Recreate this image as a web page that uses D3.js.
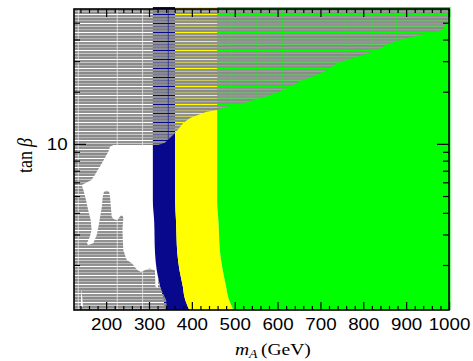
<!DOCTYPE html>
<html>
<head>
<meta charset="utf-8">
<script src="https://cdn.jsdelivr.net/npm/d3@7"></script>
<style>
  body { margin: 0; background: #fff; }
  svg { display: block; }
</style>
</head>
<body>
<svg id="chart" width="473" height="361"></svg>
<script>
// ---- axis ranges and ticks ----
const massRange = [125, 1000];
const tanbRange = [1.1, 60];
const massMajorTicks = [200, 300, 400, 500, 600, 700, 800, 900, 1000];
const massMinorTicks = [140, 160, 180, 220, 240, 260, 280, 320, 340, 360, 380,
  420, 440, 460, 480, 520, 540, 560, 580, 620, 640, 660, 680, 720, 740, 760, 780,
  820, 840, 860, 880, 920, 940, 960, 980];
const tanbMajorTicks = [10];
const tanbMinorTicks = [2, 3, 4, 5, 6, 7, 8, 9, 20, 30, 40, 50];

// ---- coloured bands: edges in mA (GeV), sampled at these tan(beta) values ----
const tanbSamples = [60, 4.7, 3.6, 2.35, 1.87, 1.5, 1.3, 1.1];
const blueLow     = [309, 309, 312, 314, 318, 326, 333, 337];
const blueHigh    = [361, 361, 363, 366, 371, 379, 383, 394];
const yellowHigh  = [459, 459, 462, 466, 472, 480, 485, 497];

// ---- excluded (hatched) region ----
// lower edge of the exclusion at large tan(beta): [mA, tanb]
const exclusionEdge = [[309, 9.63], [337, 10.16], [361, 11.56], [380, 13.2], [396, 14.11],
  [414, 14.68], [435, 15.33], [459, 15.68], [481, 16.39], [519, 17.14], [559, 18.32],
  [598, 19.74], [629, 21.38], [659, 23.36], [691, 24.97], [715, 26.68], [738, 29.17],
  [761, 30.47], [792, 32.14], [823, 34.02], [862, 38.05], [901, 40.65], [940, 42.87],
  [971, 44.38], [987, 45.83], [995, 50.5], [1000, 51.8]];
// rest of the allowed region's outline, down the right side and back up the blue edge
const allowedCorner = [[1000, 1.1], [342, 1.1], [340, 1.256], [330, 1.416], [326, 1.5],
  [318, 1.87], [314, 2.35], [312, 3.64], [309, 4.74]];
// open (unexcluded, uncoloured) pocket at low mA
const openRegion = [[321, 9.85], [321, 1.47], [315, 1.503], [314, 1.80], [314, 1.86],
  [302, 1.91], [291, 1.87], [281, 1.82], [272, 1.88], [260, 2.05], [248, 2.14], [240, 2.44],
  [238, 3.18], [240, 3.77], [236, 3.89], [231, 3.77], [226, 3.64], [218, 3.67], [213, 3.80],
  [211, 4.34], [209, 4.96], [207, 5.30], [201, 5.37], [195, 5.30], [192, 4.96], [190, 4.34],
  [186, 3.80], [182, 3.33], [178, 2.98], [170, 2.67], [158, 2.61], [155, 2.67], [162, 2.91],
  [166, 3.18], [164, 3.64], [158, 4.15], [153, 4.74], [147, 5.42], [143, 5.79], [151, 5.92],
  [166, 6.19], [176, 6.76], [190, 7.73], [205, 9.01], [209, 9.63], [217, 9.85]];
const openSpike = [[141, 1.15], [142, 1.44], [143, 1.40], [146, 1.15]];
// mA columns left unhatched by the scan
const scanGaps = [135, 226, 285, 345, 493, 552, 612, 759, 820, 878];

// ---- layout ----
const plot = { left: 74, right: 449, top: 9, bottom: 310 };
const STRETCH = 1.15;          // horizontal text stretch
const svg = d3.select('#chart');

const x = d3.scaleLinear().domain(massRange).range([plot.left, plot.right]);
const y = d3.scaleLog().domain(tanbRange).range([plot.bottom, plot.top]);

const defs = svg.append('defs');

// bands overhang the frame a little at the top and right
defs.append('clipPath').attr('id', 'bandClip')
  .append('rect')
  .attr('x', plot.left).attr('y', plot.top - 2)
  .attr('width', plot.right - plot.left + 1.5)
  .attr('height', plot.bottom - plot.top + 2);

// horizontal-line hatch used for the excluded region
const hatch = defs.append('pattern').attr('id', 'hatch')
  .attr('patternUnits', 'userSpaceOnUse')
  .attr('x', 0).attr('y', plot.top)
  .attr('width', 10).attr('height', 9);
[[0, 2, '#8a8a8a', 1], [2, 1, '#9c9c9c', 0.75], [3, 2, '#8f8f8f', 1], [5, 1, '#ffffff', 0],
 [6, 2, '#929292', 1], [8, 1, '#a5a5a5', 0.6]]
  .forEach(([yy, h, c, o]) => hatch.append('rect')
    .attr('x', 0).attr('y', yy).attr('width', 10).attr('height', h)
    .attr('fill', c).attr('fill-opacity', o));

const line = d3.line().x(d => x(d[0])).y(d => y(d[1]));

// mask: white = hatched, black = open
const mask = defs.append('mask').attr('id', 'hatchMask')
  .attr('maskUnits', 'userSpaceOnUse')
  .attr('x', 0).attr('y', 0).attr('width', 473).attr('height', 361);
mask.append('rect').attr('x', 0).attr('y', 0).attr('width', 473).attr('height', 361).attr('fill', '#fff');
mask.append('path').attr('d', line(exclusionEdge.concat(allowedCorner)) + 'Z').attr('fill', '#000');
mask.append('path').attr('d', line(openRegion) + 'Z').attr('fill', '#000');
mask.append('path').attr('d', line(openSpike) + 'Z').attr('fill', '#000');
mask.selectAll('line.gap').data(scanGaps).join('line')
  .attr('class', 'gap')
  .attr('x1', d => x(d)).attr('x2', d => x(d))
  .attr('y1', plot.top).attr('y2', plot.bottom)
  .attr('stroke', '#000').attr('stroke-opacity', 0.6).attr('stroke-width', 1);

// ---- coloured bands ----
const bandArea = (lo, hi) => d3.area()
  .curve(d3.curveMonotoneY)
  .y((d, i) => i === 0 ? plot.top - 2 : y(d))
  .x0((d, i) => typeof lo === 'number' ? lo : x(lo[i]))
  .x1((d, i) => typeof hi === 'number' ? hi : x(hi[i]));

const bands = svg.append('g').attr('clip-path', 'url(#bandClip)');
bands.append('path').attr('d', bandArea(blueLow, blueHigh)(tanbSamples)).attr('fill', '#08088c');
bands.append('path').attr('d', bandArea(blueHigh, yellowHigh)(tanbSamples)).attr('fill', '#ffff00');
bands.append('path').attr('d', bandArea(yellowHigh, plot.right + 3)(tanbSamples)).attr('fill', '#00ff00');

// ---- hatched excluded region ----
svg.append('rect')
  .attr('x', plot.left).attr('y', plot.top)
  .attr('width', plot.right - plot.left).attr('height', plot.bottom - plot.top)
  .attr('fill', 'url(#hatch)')
  .attr('mask', 'url(#hatchMask)');

// ---- axes (ticks on all four sides, pointing inward) ----
function styleAxis(g) {
  g.select('.domain').remove();
  g.selectAll('.tick line').attr('stroke', '#000').attr('stroke-width', 1.2);
  g.selectAll('text')
    .attr('font-family', '"Liberation Sans", Arial, sans-serif')
    .attr('font-size', 16.3).attr('fill', '#000');
}

const axes = svg.append('g');
// bottom
axes.append('g').attr('transform', `translate(0,${plot.bottom})`)
  .call(d3.axisBottom(x).tickValues(massMajorTicks).tickSize(-8).tickPadding(8.5).tickFormat(d3.format('d')))
  .call(styleAxis)
  .call(g => g.selectAll('text').attr('transform', `scale(${STRETCH},1)`));
axes.append('g').attr('transform', `translate(0,${plot.bottom})`)
  .call(d3.axisBottom(x).tickValues(massMinorTicks).tickSize(-4).tickFormat(''))
  .call(styleAxis);
// top
axes.append('g').attr('transform', `translate(0,${plot.top})`)
  .call(d3.axisTop(x).tickValues(massMajorTicks).tickSize(-8).tickFormat(''))
  .call(styleAxis);
axes.append('g').attr('transform', `translate(0,${plot.top})`)
  .call(d3.axisTop(x).tickValues(massMinorTicks).tickSize(-4).tickFormat(''))
  .call(styleAxis);
// left
axes.append('g').attr('transform', `translate(${plot.left},0)`)
  .call(d3.axisLeft(y).tickValues(tanbMajorTicks).tickSize(-12).tickPadding(5.5).tickFormat(d3.format('d')))
  .call(styleAxis)
  .call(g => g.selectAll('text').attr('transform', `scale(${STRETCH},1)`));
axes.append('g').attr('transform', `translate(${plot.left},0)`)
  .call(d3.axisLeft(y).tickValues(tanbMinorTicks).tickSize(-6).tickFormat(''))
  .call(styleAxis);
// right
axes.append('g').attr('transform', `translate(${plot.right},0)`)
  .call(d3.axisRight(y).tickValues(tanbMajorTicks).tickSize(-12).tickFormat(''))
  .call(styleAxis);
axes.append('g').attr('transform', `translate(${plot.right},0)`)
  .call(d3.axisRight(y).tickValues(tanbMinorTicks).tickSize(-6).tickFormat(''))
  .call(styleAxis);

// frame
svg.append('rect')
  .attr('x', plot.left).attr('y', plot.top)
  .attr('width', plot.right - plot.left).attr('height', plot.bottom - plot.top)
  .attr('fill', 'none').attr('stroke', '#000').attr('stroke-width', 1.6);

// ---- axis titles ----
const serif = '"Liberation Serif", "Times New Roman", serif';
const xt = svg.append('text')
  .attr('transform', `translate(235,355) scale(${STRETCH},1)`)
  .attr('font-family', serif).attr('font-size', 17).attr('fill', '#000');
xt.append('tspan').attr('font-style', 'italic').text('m');
xt.append('tspan').attr('font-style', 'italic').attr('font-size', 12).attr('dy', 2.5).text('A');
xt.append('tspan').attr('dy', -2.5).attr('dx', 3).text('(GeV)');

const yt = svg.append('text')
  .attr('transform', `translate(31.5,155.5) scale(${STRETCH},1) rotate(-90)`)
  .attr('text-anchor', 'middle')
  .attr('font-family', serif).attr('font-size', 18).attr('fill', '#000');
yt.append('tspan').text('tan');
yt.append('tspan').attr('dx', 4).attr('font-style', 'italic').text('β');
</script>
</body>
</html>
